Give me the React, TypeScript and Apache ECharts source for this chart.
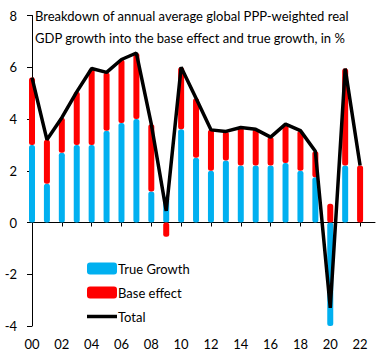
import React, { useEffect, useRef } from "react";
import * as echarts from "echarts";

const years = ["00","01","02","03","04","05","06","07","08","09","10","11","12","13","14","15","16","17","18","19","20","21","22","23"];
const trueGrowth = [3.0,1.5,2.7,3.0,3.0,3.55,3.85,4.0,1.2,1.0,3.6,2.5,2.0,2.4,2.2,2.2,2.2,2.3,2.0,1.75,-4.0,2.2,0.0];
const baseEffect = [2.6,1.7,1.35,2.05,2.95,2.25,2.45,2.55,2.6,-0.55,2.4,2.3,1.58,1.12,1.47,1.4,1.1,1.5,1.55,1.0,0.72,3.75,2.2];
const total = [5.6,3.2,4.05,5.05,5.95,5.8,6.3,6.55,3.8,0.45,6.0,4.8,3.58,3.52,3.67,3.6,3.3,3.8,3.55,2.75,-3.3,5.95,2.2];
const yTicks = [-4, 8, 2];
const titleText = "Breakdown of annual average global PPP-weighted real\nGDP growth into the base effect and true growth, in %";

const FONT = "Lato";

export default function App() {
  const ref = useRef<HTMLDivElement>(null);
  useEffect(() => {
    const chart = echarts.init(ref.current!, null, { renderer: "svg" });
    chart.setOption({
      animation: false,
      textStyle: { fontFamily: FONT },
      title: {
        text: titleText,
        left: 35,
        top: 5,
        padding: 0,
        textStyle: { fontFamily: FONT, fontSize: 13, fontWeight: "normal", color: "#000", lineHeight: 22 },
      },
      legend: {
        orient: "vertical",
        left: 87,
        top: 262,
        padding: 0,
        itemWidth: 30,
        itemHeight: 12,
        itemGap: 11,
        textStyle: { fontFamily: FONT, fontSize: 13, color: "#000", lineHeight: 12, padding: [0, 0, 0, -4] },
        data: [
          { name: "True Growth", icon: "roundRect" },
          { name: "Base effect", icon: "roundRect" },
          { name: "Total", icon: "path://M0,0 h30 v3.5 h-30 z" },
        ],
      },
      grid: { left: 32, right: 8, top: 15.5, bottom: 31, containLabel: false },
      xAxis: [
        {
          type: "category",
          data: years,
          boundaryGap: false,
          axisLine: { onZero: true, lineStyle: { color: "#000", width: 1 } },
          axisTick: { show: true, interval: 1, length: 4, inside: false, lineStyle: { color: "#000" } },
          axisLabel: { show: false },
          splitLine: { show: false },
        },
        {
          type: "category",
          data: years,
          boundaryGap: false,
          position: "bottom",
          axisLine: { show: false, onZero: false },
          axisTick: { show: false },
          axisLabel: { show: true, interval: 1, margin: 11, fontFamily: FONT, fontSize: 13, color: "#000" },
          splitLine: { show: false },
        },
      ],
      yAxis: {
        type: "value",
        min: yTicks[0],
        max: yTicks[1],
        interval: yTicks[2],
        axisLine: { show: true, lineStyle: { color: "#000", width: 1 } },
        axisTick: { show: true, length: 5, lineStyle: { color: "#000" } },
        axisLabel: { margin: 15, fontFamily: FONT, fontSize: 13, color: "#000" },
        splitLine: { show: false },
      },
      series: [
        {
          name: "True Growth",
          type: "bar",
          stack: "g",
          barWidth: 6,
          data: trueGrowth,
          itemStyle: { color: "#00B0F0", borderRadius: 2.5 },
        },
        {
          name: "Base effect",
          type: "bar",
          stack: "g",
          barWidth: 6,
          data: baseEffect,
          itemStyle: { color: "#FF0000", borderRadius: 2.5 },
        },
        {
          name: "Total",
          type: "line",
          data: total,
          symbol: "none",
          z: 5,
          lineStyle: { color: "#000", width: 3.5 },
          itemStyle: { color: "#000" },
        },
      ],
    });
    return () => chart.dispose();
  }, []);
  return <div ref={ref} style={{ width: 383, height: 357, position: "absolute", left: 0, top: 0 }} />;
}
